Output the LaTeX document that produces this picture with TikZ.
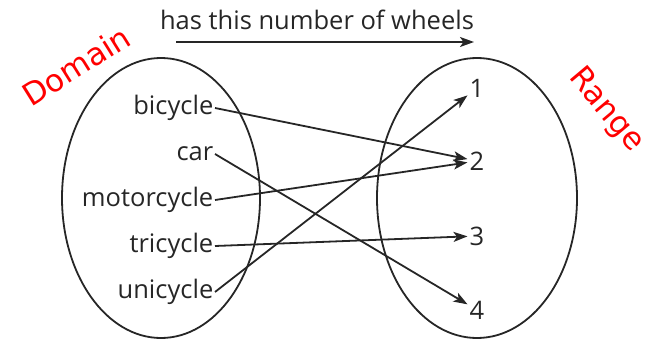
\documentclass[tikz,border=0pt]{standalone}
\usepackage{fontspec}
\setmainfont{Open Sans}
\newfontfamily\handfont{DejaVu Sans}
\usetikzlibrary{arrows.meta}
\begin{document}
\begin{tikzpicture}[x=1pt,y=-1pt,
  txt/.style={font=\fontsize{25.5}{28}\selectfont, text=black!85},
  lbl/.style={txt, inner sep=1.5pt, text height=18pt, text depth=5pt, anchor=east},
  num/.style={txt, inner sep=2pt},
  conn/.style={line width=1.8pt, black!85, -{Stealth[length=14pt,width=10pt,inset=3.5pt]}},
  oval/.style={line width=1.8pt, black!85},
  hand/.style={text=red, font=\handfont\fontsize{31}{34}\selectfont}]
\useasboundingbox (0,0) rectangle (661,342);
\draw[oval] (161,198) ellipse [x radius=99, y radius=140];
\draw[oval] (477,198) ellipse [x radius=100, y radius=140];
\node[txt] (title) at (317,20) {has this number of wheels};
\coordinate (hs) at (176,42);
\coordinate (he) at (474,42);
\draw[conn] (hs) -- (he);
\node[lbl] (bicycle) at (215,108) {bicycle};
\node[lbl] (car) at (215,154) {car};
\node[lbl] (motorcycle) at (215,200) {motorcycle};
\node[lbl] (tricycle) at (215,246) {tricycle};
\node[lbl] (unicycle) at (215,292) {unicycle};
\node[num] (one) at (477,88) {1};
\node[num] (two) at (477,161) {2};
\node[num] (three) at (477,236) {3};
\node[num] (four) at (477,310) {4};
\draw[conn] (bicycle.east) -- (two);
\draw[conn] (car.east) -- (four);
\draw[conn] (motorcycle.east) -- (two);
\draw[conn] (tricycle.east) -- (three);
\draw[conn] (unicycle.east) -- (one);
\node[hand, rotate=32] (domain) at (76,66) {Domain};
\node[hand, rotate=-50] (range) at (606,110) {Range};
\end{tikzpicture}
\end{document}
